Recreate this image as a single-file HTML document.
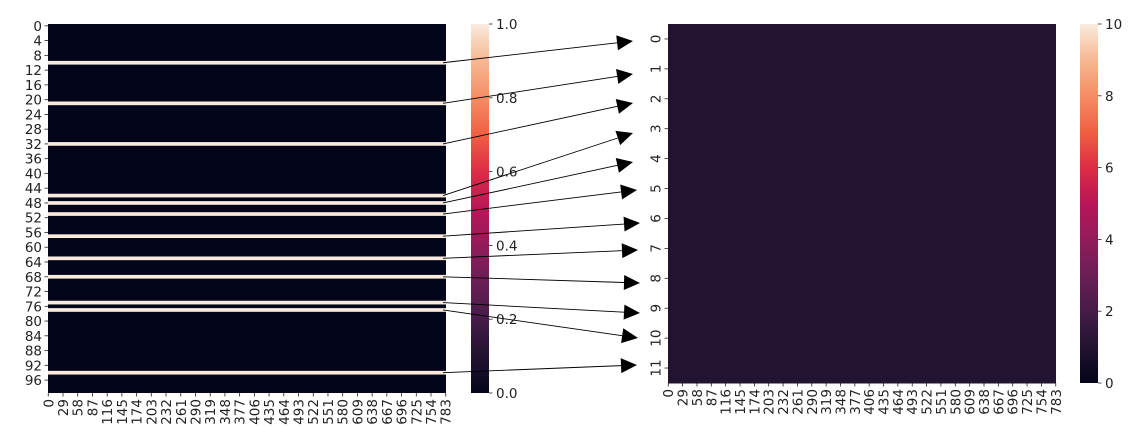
<!DOCTYPE html>
<html><head><meta charset="utf-8"><style>
html,body{margin:0;padding:0;background:#fff;width:1137px;height:442px;overflow:hidden}
svg text{font-family:"DejaVu Sans","Liberation Sans",sans-serif;font-size:13.5px;fill:#222}
</style></head><body>
<svg id="chart" width="1137" height="442" xmlns="http://www.w3.org/2000/svg">
<defs>
<linearGradient id="rocket" x1="0" y1="1" x2="0" y2="0">
<stop offset="0" stop-color="#03051a"/><stop offset="0.1" stop-color="#221331"/><stop offset="0.2" stop-color="#451c47"/>
<stop offset="0.3" stop-color="#691f55"/><stop offset="0.4" stop-color="#921c5b"/><stop offset="0.5" stop-color="#b91657"/>
<stop offset="0.6" stop-color="#dd2c45"/><stop offset="0.7" stop-color="#f06043"/><stop offset="0.8" stop-color="#f58d63"/>
<stop offset="0.9" stop-color="#f6b893"/><stop offset="1" stop-color="#faebdd"/>
</linearGradient>
</defs>
</svg>
<script>
// data
const highlightRows = [10,21,32,46,48,51,57,63,68,75,77,94];
const nRowsLeft = 100;
const nCols = 784;
const xTickLabels = [0,29,58,87,116,145,174,203,232,261,290,319,348,377,406,435,464,493,522,551,580,609,638,667,696,725,754,783];
const leftYTicks = [0,4,8,12,16,20,24,28,32,36,40,44,48,52,56,60,64,68,72,76,80,84,88,92,96];
const rightRowValues = [1,1,1,1,1,1,1,1,1,1,1,1];
const leftCbTicks = [0,0.2,0.4,0.6,0.8,1.0];
const rightCbTicks = [0,2,4,6,8,10];
const arrowTipX = [633,633,633,633,633,637,640,638,640,640,638,637];
const arrowTipY = [41,74,103,133,162,190,223,250,283,313,338,365];

const NS="http://www.w3.org/2000/svg", svg=document.getElementById('chart');
function mk(tag,attrs,parent){const e=document.createElementNS(NS,tag);for(const k in attrs)e.setAttribute(k,attrs[k]);(parent||svg).appendChild(e);return e;}
const L={x0:48,x1:446,y0:24,y1:393}, R={x0:668,x1:1056,y0:24,y1:383};
const lx=c=>L.x0+(c+0.5)*(L.x1-L.x0)/nCols, ly=r=>L.y0+r*(L.y1-L.y0)/nRowsLeft;
const rx=c=>R.x0+(c+0.5)*(R.x1-R.x0)/nCols, ry=r=>R.y0+r*(R.y1-R.y0)/rightRowValues.length;
const stops=[[3,5,26],[34,19,49],[69,28,71],[105,31,85],[146,28,91],[185,22,87],[221,44,69],[240,96,67],[245,141,99],[246,184,147],[250,235,221]];
function rocket(t){t=Math.max(0,Math.min(1,t))*10;const i=Math.min(9,Math.floor(t)),f=t-i;const a=stops[i],b=stops[i+1];return 'rgb('+a.map((v,k)=>Math.round(v+(b[k]-v)*f)).join(',')+')';}

// left heatmap
let e=mk('rect',{x:L.x0,y:L.y0,width:L.x1-L.x0,height:L.y1-L.y0,fill:rocket(0)});


highlightRows.forEach(r=>{const s=mk('rect',{x:L.x0,y:ly(r),width:L.x1-L.x0,height:ly(r+1)-ly(r),fill:rocket(1)});

});
leftYTicks.forEach(v=>{const y=ly(v+0.5);mk('line',{x1:L.x0-3.5,x2:L.x0,y1:y,y2:y,stroke:'#222','stroke-width':0.8});
const t=mk('text',{x:L.x0-6,y:y+5,'text-anchor':'end'});t.textContent=v;

});
xTickLabels.forEach(v=>{[[lx,L.y1],[rx,R.y1]].forEach(([fx,yb])=>{const x=fx(v);mk('line',{x1:x,x2:x,y1:yb,y2:yb+3.5,stroke:'#222','stroke-width':0.8});
const t=mk('text',{x:0,y:0,'text-anchor':'end',transform:`translate(${x+5},${yb+6}) rotate(-90)`});t.textContent=v;

});});

// right heatmap
rightRowValues.forEach((v,i)=>{const c=mk('rect',{x:R.x0,y:ry(i),width:R.x1-R.x0,height:ry(i+1)-ry(i)+0.5,fill:rocket(v/10)});


const y=ry(i+0.5);mk('line',{x1:R.x0-3.5,x2:R.x0,y1:y,y2:y,stroke:'#222','stroke-width':0.8});
const t=mk('text',{x:0,y:0,'text-anchor':'middle',transform:`translate(${R.x0-7.5},${y}) rotate(-90)`});t.textContent=i;

});

// colorbars
function colorbar(x,y0,y1,ticks,max,name){const b=mk('rect',{x:x,y:y0,width:18,height:y1-y0,fill:'url(#rocket)'});


ticks.forEach(v=>{const y=y1-(v/max)*(y1-y0);mk('line',{x1:x+18,x2:x+21.5,y1:y,y2:y,stroke:'#222','stroke-width':0.8});
const t=mk('text',{x:x+25,y:y+5});t.textContent=(max===1?v.toFixed(1):v);

});}
colorbar(471,L.y0,L.y1,leftCbTicks,1,'left-colorbar');
colorbar(1080,R.y0,R.y1,rightCbTicks,10,'right-colorbar');

// arrows
highlightRows.forEach((r,i)=>{const sx=443,sy=ly(r+0.5),tx=arrowTipX[i],ty=arrowTipY[i];
const dx=tx-sx,dy=ty-sy,len=Math.hypot(dx,dy),ux=dx/len,uy=dy/len,hl=16,hw=7.5;
const bx=tx-ux*hl,by=ty-uy*hl;
const g=mk('g',{});


mk('line',{x1:sx,y1:sy,x2:bx,y2:by,stroke:'#000','stroke-width':0.9},g);
mk('polygon',{points:`${tx},${ty} ${bx-uy*hw},${by+ux*hw} ${bx+uy*hw},${by-ux*hw}`,fill:'#000'},g);});
</script>
</body></html>
